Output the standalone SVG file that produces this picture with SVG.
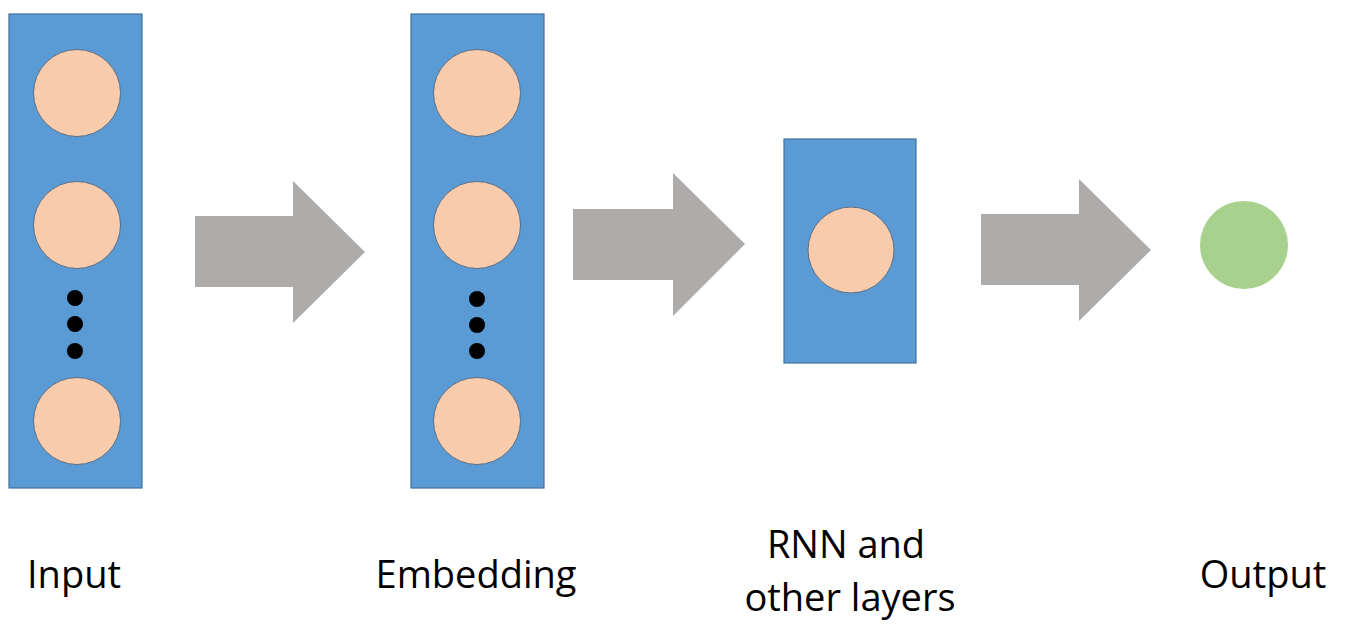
<svg xmlns="http://www.w3.org/2000/svg" width="1350" height="628" viewBox="0 0 1350 628">
<style>
.layer{fill:#5B9BD5;stroke:#41719C;stroke-width:1.2}
.unit{fill:#F8CBAD;stroke:#5A6E85;stroke-width:1}
.dot{fill:#000}
.arrow{fill:#AEABAB}
.lbl{font-family:"Open Sans","Liberation Sans",sans-serif;font-size:38px;fill:#000;text-anchor:middle}
</style>
<rect width="1350" height="628" fill="#fff"/>
<g id="input">
<rect class="layer" x="9" y="14" width="133" height="474"/>
<circle class="unit" cx="77" cy="93" r="43.5"/>
<circle class="unit" cx="77" cy="225" r="43.5"/>
<circle class="dot" cx="75" cy="298" r="8"/>
<circle class="dot" cx="75" cy="324" r="8"/>
<circle class="dot" cx="75" cy="351" r="8"/>
<circle class="unit" cx="77" cy="421" r="43.5"/>
<text class="lbl" x="74" y="588">Input</text>
</g>
<g id="embedding">
<rect class="layer" x="411" y="14" width="133" height="474"/>
<circle class="unit" cx="477" cy="93" r="43.5"/>
<circle class="unit" cx="477" cy="225" r="43.5"/>
<circle class="dot" cx="477" cy="299" r="8"/>
<circle class="dot" cx="477" cy="325" r="8"/>
<circle class="dot" cx="477" cy="351" r="8"/>
<circle class="unit" cx="477" cy="421" r="43.5"/>
<text class="lbl" x="476" y="588">Embedding</text>
</g>
<g id="rnn">
<rect class="layer" x="784" y="139" width="132" height="224"/>
<circle class="unit" cx="851" cy="250" r="43"/>
<text class="lbl" x="846" y="558">RNN and</text>
<text class="lbl" x="850" y="611">other layers</text>
</g>
<g id="output">
<circle cx="1244" cy="245" r="44" fill="#A9D18E"/>
<text class="lbl" x="1263" y="588">Output</text>
</g>
<g id="connectors">
<polygon class="arrow" points="195,216 293,216 293,181 365,252 293,323 293,287 195,287"/>
<polygon class="arrow" points="573,209 673,209 673,173 745,244 673,316 673,280 573,280"/>
<polygon class="arrow" points="981,214 1079,214 1079,179 1151,250 1079,321 1079,285 981,285"/>
</g>
</svg>
